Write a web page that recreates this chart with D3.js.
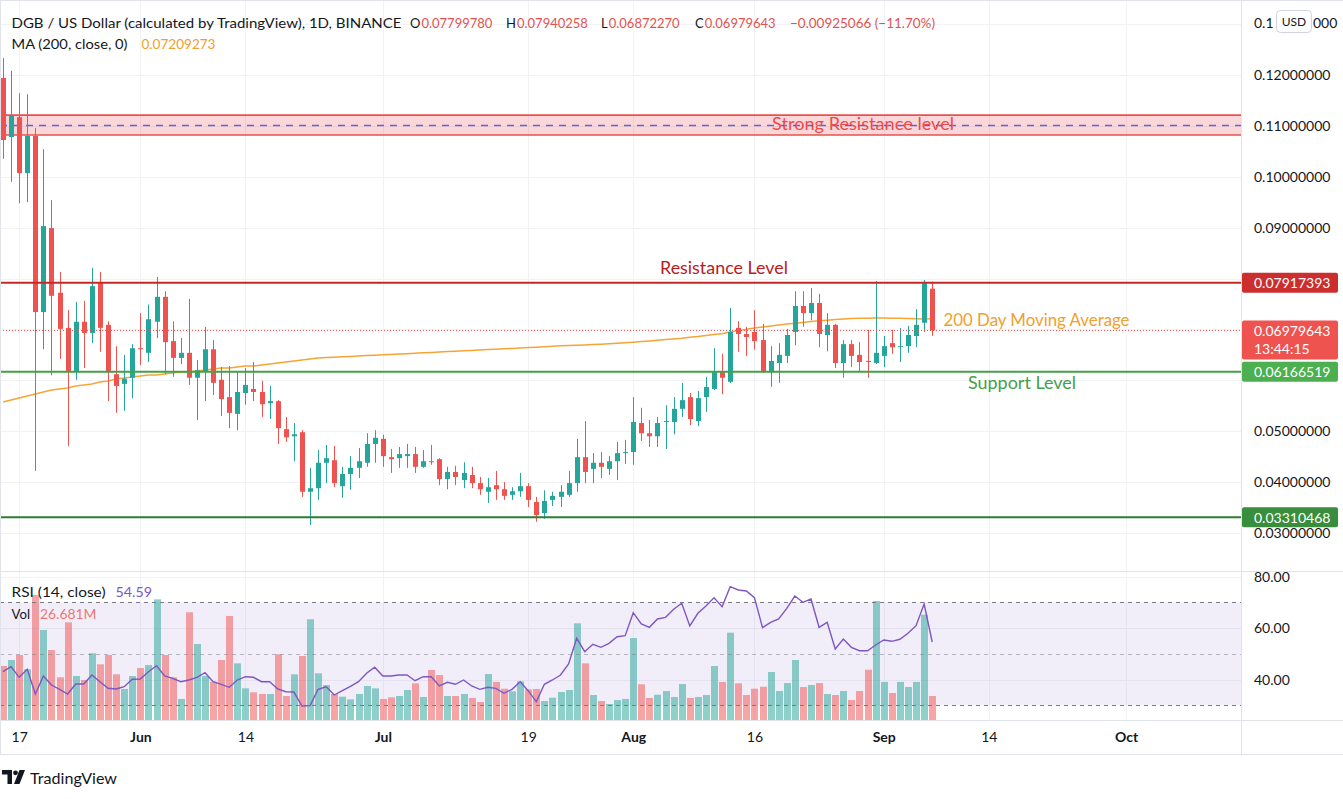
<!DOCTYPE html>
<html><head><meta charset="utf-8">
<script src="https://cdn.jsdelivr.net/npm/d3@7"></script>
<style>
html,body{margin:0;padding:0;background:#fff;overflow:hidden;}
svg{display:block;}
</style></head><body>
<svg id="chart" width="1343" height="799"></svg>
<script>
// ---------------- DATA ----------------
const firstDay = [2021, 4, 15]; // 15 May 2021, one candle per day
const open = [
0.1194,0.1078,0.1117,0.1007,0.1080,0.0734,0.0899,0.0772,0.0703,0.0616,
0.0715,0.0693,0.0793,0.0709,0.0612,0.0593,0.0605,0.0663,0.0654,0.0715,
0.0764,0.0677,0.0644,0.0654,0.0605,0.0618,0.0661,0.0601,0.0567,0.0534,
0.0575,0.0583,0.0577,0.0555,0.0559,0.0504,0.0490,0.0498,0.0381,0.0388,
0.0438,0.0443,0.0392,0.0416,0.0428,0.0438,0.0475,0.0485,0.0449,0.0447,
0.0451,0.0455,0.0430,0.0441,0.0445,0.0406,0.0420,0.0404,0.0414,0.0398,
0.0381,0.0394,0.0386,0.0375,0.0382,0.0392,0.0361,0.0339,0.0365,0.0371,
0.0375,0.0398,0.0449,0.0426,0.0438,0.0426,0.0441,0.0457,0.0459,0.0516,
0.0496,0.0490,0.0518,0.0518,0.0544,0.0567,0.0520,0.0567,0.0583,0.0616,
0.0597,0.0703,0.0691,0.0695,0.0679,0.0616,0.0634,0.0648,0.0695,0.0746,
0.0732,0.0752,0.0689,0.0709,0.0634,0.0671,0.0650,0.0638,0.0634,0.0648,
0.0673,0.0665,0.0667,0.0687,0.0713,0.07799780];
const high = [
0.1233,0.1208,0.1164,0.1162,0.1096,0.1054,0.0954,0.0813,0.0738,0.0754,
0.0756,0.0821,0.0813,0.0716,0.0667,0.0650,0.0671,0.0732,0.0749,0.0803,
0.0775,0.0716,0.0683,0.0760,0.0640,0.0705,0.0679,0.0626,0.0628,0.0616,
0.0624,0.0636,0.0599,0.0589,0.0561,0.0528,0.0516,0.0502,0.0428,0.0463,
0.0473,0.0471,0.0430,0.0451,0.0467,0.0496,0.0502,0.0493,0.0465,0.0469,
0.0475,0.0469,0.0463,0.0473,0.0447,0.0430,0.0432,0.0439,0.0430,0.0410,
0.0408,0.0422,0.0400,0.0390,0.0418,0.0398,0.0371,0.0384,0.0381,0.0394,
0.0422,0.0485,0.0520,0.0457,0.0459,0.0451,0.0479,0.0483,0.0567,0.0546,
0.0522,0.0528,0.0551,0.0567,0.0595,0.0575,0.0579,0.0607,0.0663,0.0652,
0.0742,0.0716,0.0705,0.0738,0.0711,0.0667,0.0673,0.0701,0.0775,0.0775,
0.0781,0.0770,0.0732,0.0711,0.0679,0.0679,0.0675,0.0699,0.0795,0.0687,
0.0699,0.0703,0.0707,0.0740,0.0797,0.07940258];
const low = [
0.1035,0.0990,0.0948,0.0950,0.0422,0.0661,0.0610,0.0642,0.0471,0.0601,
0.0624,0.0673,0.0656,0.0559,0.0536,0.0540,0.0565,0.0630,0.0636,0.0683,
0.0612,0.0607,0.0632,0.0591,0.0522,0.0559,0.0571,0.0530,0.0506,0.0502,
0.0552,0.0559,0.0528,0.0524,0.0475,0.0479,0.0441,0.0371,0.0316,0.0365,
0.0398,0.0390,0.0369,0.0385,0.0408,0.0430,0.0438,0.0430,0.0418,0.0428,
0.0428,0.0418,0.0428,0.0434,0.0394,0.0386,0.0394,0.0388,0.0388,0.0375,
0.0359,0.0365,0.0365,0.0365,0.0371,0.0351,0.0322,0.0328,0.0353,0.0351,
0.0371,0.0381,0.0398,0.0398,0.0408,0.0414,0.0404,0.0436,0.0434,0.0481,
0.0469,0.0469,0.0465,0.0494,0.0528,0.0512,0.0510,0.0538,0.0581,0.0573,
0.0595,0.0656,0.0648,0.0660,0.0614,0.0587,0.0595,0.0634,0.0669,0.0705,
0.0718,0.0665,0.0657,0.0624,0.0605,0.0626,0.0618,0.0605,0.0632,0.0626,
0.0652,0.0636,0.0654,0.0665,0.0695,0.06872270];
const close = [
0.1072,0.1121,0.1007,0.1080,0.0734,0.0903,0.0766,0.0701,0.0616,0.0715,
0.0693,0.0785,0.0703,0.0616,0.0589,0.0603,0.0663,0.0661,0.0720,0.0764,
0.0675,0.0644,0.0654,0.0605,0.0620,0.0661,0.0595,0.0563,0.0536,0.0577,
0.0591,0.0577,0.0553,0.0559,0.0506,0.0488,0.0494,0.0381,0.0388,0.0438,
0.0447,0.0398,0.0416,0.0428,0.0441,0.0475,0.0487,0.0451,0.0445,0.0455,
0.0455,0.0430,0.0441,0.0439,0.0406,0.0420,0.0410,0.0418,0.0398,0.0386,
0.0390,0.0386,0.0373,0.0382,0.0392,0.0365,0.0335,0.0363,0.0373,0.0381,
0.0398,0.0449,0.0420,0.0438,0.0430,0.0441,0.0457,0.0459,0.0518,0.0496,
0.0490,0.0516,0.0520,0.0544,0.0561,0.0524,0.0565,0.0587,0.0616,0.0605,
0.0695,0.0691,0.0685,0.0677,0.0616,0.0638,0.0650,0.0689,0.0746,0.0732,
0.0752,0.0691,0.0709,0.0634,0.0671,0.0648,0.0636,0.0636,0.0654,0.0667,
0.0665,0.0667,0.0689,0.0709,0.07905,0.06979643];
// volume in millions
const volume = [
60.0,66.7,72.3,56.4,139.0,100.1,77.8,47.5,108.6,48.9,
44.5,74.2,61.9,72.3,50.8,34.5,48.9,57.8,61.2,134.2,
72.3,47.5,23.4,119.8,84.5,48.9,42.6,66.7,115.7,63.0,
35.2,30.8,28.9,28.9,73.1,26.7,50.8,71.2,112.0,51.9,
38.9,28.9,25.9,23.0,28.9,37.8,35.2,23.4,25.2,26.7,
33.4,40.8,25.6,55.6,50.0,26.7,26.7,28.9,24.5,20.0,
51.2,42.3,34.8,31.9,43.0,34.1,34.5,21.1,24.8,31.1,
33.4,107.5,63.0,27.8,21.1,17.8,22.2,23.4,91.2,39.7,
24.5,28.1,32.2,25.6,40.0,24.5,25.6,27.8,60.0,42.3,
97.1,40.8,27.8,34.8,37.0,53.4,32.2,41.1,66.7,36.7,
38.9,41.1,28.9,27.8,32.2,22.2,32.2,55.9,132.3,42.3,
30.0,42.3,36.7,42.3,117.1,26.681];
const rsi = [
43.05,44.99,40.87,43.98,34.39,41.38,37.88,36.21,34.39,38.27,
38.27,41.77,39.17,36.60,36.33,37.22,40.10,40.23,43.05,45.38,
41.38,40.49,39.17,39.83,40.87,42.66,39.17,38.16,36.99,39.83,
41.11,40.87,39.17,39.17,36.33,35.28,35.15,29.73,29.86,36.21,
37.22,34.00,35.67,37.35,39.17,42.43,44.76,41.38,41.38,41.77,
41.77,39.55,41.11,41.11,37.50,38.93,38.16,39.83,37.50,36.21,
36.99,36.60,34.66,36.21,39.17,35.67,31.40,38.16,39.83,41.77,
46.04,56.02,50.82,53.69,52.52,54.08,56.64,57.03,65.96,61.57,
60.29,63.51,64.17,67.28,69.61,60.80,65.73,68.56,71.79,68.29,
76.06,74.78,74.39,71.79,60.14,62.23,63.51,67.67,72.45,70.00,
71.28,60.29,62.23,51.86,55.75,52.52,51.20,51.20,53.42,55.36,
54.85,55.63,57.96,60.91,69.34,54.59];
const ma200 = [
0.05573,0.05613,0.05652,0.05691,0.05731,0.05770,0.05809,0.05829,0.05848,0.05888,
0.05907,0.05927,0.05966,0.05986,0.06025,0.06045,0.06064,0.06084,0.06104,0.06104,
0.06123,0.06143,0.06163,0.06163,0.06182,0.06202,0.06222,0.06241,0.06241,0.06261,
0.06281,0.06281,0.06300,0.06320,0.06340,0.06359,0.06379,0.06398,0.06418,0.06438,
0.06446,0.06454,0.06462,0.06469,0.06477,0.06485,0.06493,0.06501,0.06509,0.06516,
0.06524,0.06532,0.06540,0.06548,0.06556,0.06564,0.06571,0.06579,0.06587,0.06595,
0.06603,0.06611,0.06619,0.06626,0.06634,0.06642,0.06650,0.06658,0.06668,0.06680,
0.06684,0.06689,0.06695,0.06701,0.06709,0.06719,0.06729,0.06739,0.06749,0.06761,
0.06772,0.06786,0.06800,0.06813,0.06827,0.06845,0.06862,0.06880,0.06898,0.06915,
0.06949,0.06976,0.07002,0.07027,0.07047,0.07067,0.07086,0.07106,0.07121,0.07137,
0.07153,0.07169,0.07182,0.07194,0.07204,0.07212,0.07218,0.07220,0.07222,0.07222,
0.07220,0.07218,0.07214,0.07210,0.07206,0.07209273];

const priceTicks = [0.03,0.04,0.05,0.06,0.07,0.08,0.09,0.10,0.11,0.12,0.13];
const rsiTicks = [40, 60, 80];
const timeTickDates = ["2021-05-17","2021-06-01","2021-06-14","2021-07-01","2021-07-19","2021-08-01","2021-08-16","2021-09-01","2021-09-14","2021-10-01"];
const timeTickLabels = ["17","Jun","14","Jul","19","Aug","16","Sep","14","Oct"];

const resistanceLevel = 0.07917393;
const supportLevel = 0.06166519;
const bottomSupport = 0.03310468;
const lastPrice = 0.06979643;
const strongZone = [0.1082, 0.1121];   // bottom, top of the shaded zone
const strongZoneMid = 0.1102;
const countdown = "13:44:15";
const headerOHLC = [["O","0.07799780"],["H","0.07940258"],["L","0.06872270"],["C","0.06979643"]];
const headerChange = "\u22120.00925066 (\u221211.70%)";
const maValue = "0.07209273";
const rsiValue = "54.59";
const volValue = "26.681M";

// ---------------- LAYOUT ----------------
const FONT = "Lato, 'Open Sans', 'DejaVu Sans', sans-serif";
const W = 1343, H = 799;
const PLOT_R = 1241;
const MAIN_B = 571, RSI_T = 572, RSI_B = 720, AX_B = 754;
const TEXT = "#131722";
const UP = "#26a69a", DOWN = "#ef5350";
const fmt8 = d3.format(".8f");

const svg = d3.select("#chart").attr("font-family", FONT);
svg.append("rect").attr("width", W).attr("height", H).attr("fill", "#fff");

const defs = svg.append("defs");
defs.append("clipPath").attr("id","mainClip").append("rect").attr("x",0).attr("y",0).attr("width",PLOT_R).attr("height",MAIN_B);
defs.append("clipPath").attr("id","rsiClip").append("rect").attr("x",0).attr("y",RSI_T).attr("width",PLOT_R).attr("height",RSI_B-RSI_T);
defs.append("clipPath").attr("id","pAxClip").append("rect").attr("x",PLOT_R).attr("y",0).attr("width",W-PLOT_R).attr("height",MAIN_B);
defs.append("clipPath").attr("id","rAxClip").append("rect").attr("x",PLOT_R).attr("y",RSI_T).attr("width",W-PLOT_R).attr("height",RSI_B-RSI_T);

const dates = open.map((_, i) => new Date(Date.UTC(firstDay[0], firstDay[1], firstDay[2] + i)));
const x = d3.scaleUtc()
  .domain([new Date(Date.UTC(2021,4,15)), new Date(Date.UTC(2021,9,15))])
  .range([3, 3 + 153 * 8.08]);
const yP = d3.scaleLinear().domain([0.03, 0.13]).range([533, 24]);
const yR = d3.scaleLinear().domain([30, 70]).range([705.3, 602.3]);
const yV = d3.scaleLinear().domain([0, 150]).range([RSI_B, 585.1]);
const tickDates = timeTickDates.map(s => new Date(s + "T00:00:00Z"));
const cx = i => Math.round(x(dates[i]));
const crisp = v => Math.round(v) + 0.5;

// ---------------- GRID ----------------
const grid = svg.append("g").attr("stroke", "#f0f2f6").attr("stroke-width", 1);
tickDates.forEach(d => {
  grid.append("line").attr("x1", crisp(x(d))).attr("x2", crisp(x(d))).attr("y1", 0).attr("y2", RSI_B);
});
priceTicks.forEach(p => {
  grid.append("line").attr("x1", 0).attr("x2", PLOT_R).attr("y1", crisp(yP(p))).attr("y2", crisp(yP(p)));
});
rsiTicks.forEach(r => {
  grid.append("line").attr("x1", 0).attr("x2", PLOT_R).attr("y1", crisp(yR(r))).attr("y2", crisp(yR(r)));
});

// ---------------- MAIN PANE ----------------
const main = svg.append("g").attr("clip-path", "url(#mainClip)");

// strong resistance zone
main.append("rect").attr("x", 0).attr("width", PLOT_R)
  .attr("y", yP(strongZone[1])).attr("height", yP(strongZone[0]) - yP(strongZone[1]))
  .attr("fill", "rgba(242,54,69,0.2)");
strongZone.forEach(v => main.append("line").attr("x1",0).attr("x2",PLOT_R)
  .attr("y1", yP(v)).attr("y2", yP(v)).attr("stroke", "#e8504f").attr("stroke-width", 1.6));
main.append("line").attr("x1",0).attr("x2",PLOT_R)
  .attr("y1", crisp(yP(strongZoneMid))).attr("y2", crisp(yP(strongZoneMid)))
  .attr("stroke", "#5867d6").attr("stroke-width", 1.3).attr("stroke-dasharray", "7,6");

// 200 MA
main.append("path").datum(ma200)
  .attr("d", d3.line().x((d, i) => x(dates[i])).y(d => yP(d)))
  .attr("fill", "none").attr("stroke", "#f5a536").attr("stroke-width", 1.5);

// candles
const candles = main.append("g");
dates.forEach((d, i) => {
  const up = close[i] >= open[i];
  const col = up ? UP : DOWN;
  const c = cx(i);
  candles.append("line").attr("x1", c + 0.5).attr("x2", c + 0.5)
    .attr("y1", yP(high[i])).attr("y2", yP(low[i])).attr("stroke", col).attr("stroke-width", 1);
  const top = yP(Math.max(open[i], close[i])), bot = yP(Math.min(open[i], close[i]));
  candles.append("rect").attr("x", c - 2).attr("width", 5)
    .attr("y", top).attr("height", Math.max(1, bot - top)).attr("fill", col);
});

// last price dotted line
main.append("line").attr("x1", 0).attr("x2", PLOT_R)
  .attr("y1", crisp(yP(lastPrice))).attr("y2", crisp(yP(lastPrice)))
  .attr("stroke", DOWN).attr("stroke-width", 1).attr("stroke-dasharray", "1,2");

// horizontal levels
[[resistanceLevel, "#c62828"], [supportLevel, "#43a047"], [bottomSupport, "#2e7d32"]].forEach(([v, c]) => {
  main.append("line").attr("x1", 0).attr("x2", PLOT_R).attr("y1", yP(v)).attr("y2", yP(v))
    .attr("stroke", c).attr("stroke-width", 2);
});

// annotations
const notes = [
  ["Strong Resistance level", 772, yP(strongZoneMid) - 1, 182, "#ee4a4a"],
  ["Resistance Level", 660, yP(resistanceLevel) - 15, 128, "#b71c1c"],
  ["200 Day Moving Average", 943.5, yP(ma200[ma200.length - 1]) + 0.5, 186, "#f0a02c"],
  ["Support Level", 968, yP(supportLevel) + 10.5, 108, "#43a047"]
];
notes.forEach(([t, tx, ty, tl, c]) => {
  main.append("text").attr("x", tx).attr("y", ty).attr("dominant-baseline", "central")
    .attr("font-size", 17).attr("fill", c).attr("textLength", tl).attr("lengthAdjust", "spacingAndGlyphs").text(t);
});

// header legend
const hdr = svg.append("g").attr("font-size", 13).attr("dominant-baseline", "central");
hdr.append("text").attr("x", 11.5).attr("y", 23).attr("fill", TEXT)
  .attr("textLength", 390).attr("lengthAdjust", "spacingAndGlyphs")
  .text("DGB / US Dollar (calculated by TradingView), 1D, BINANCE");
const ohlcX = [410, 506, 601, 695];
headerOHLC.forEach(([k, v], i) => {
  const t = hdr.append("text").attr("x", ohlcX[i]).attr("y", 23).attr("fill", TEXT);
  t.append("tspan").text(k);
  t.append("tspan").attr("fill", "#e3524f").attr("dx", 1).text(v);
});
hdr.append("text").attr("x", 790).attr("y", 23).attr("fill", "#e3524f")
  .attr("textLength", 145).attr("lengthAdjust", "spacingAndGlyphs").text(headerChange);
hdr.append("text").attr("x", 11.5).attr("y", 44).attr("fill", TEXT)
  .attr("textLength", 116).attr("lengthAdjust", "spacingAndGlyphs").text("MA (200, close, 0)");
hdr.append("text").attr("x", 141.5).attr("y", 44).attr("fill", "#f0a02c")
  .attr("textLength", 74).attr("lengthAdjust", "spacingAndGlyphs").text(maValue);

// ---------------- RSI / VOLUME PANE ----------------
const rp = svg.append("g").attr("clip-path", "url(#rsiClip)");
rp.append("rect").attr("x", 0).attr("width", PLOT_R)
  .attr("y", yR(70)).attr("height", yR(30) - yR(70)).attr("fill", "rgba(126,87,194,0.1)");
dates.forEach((d, i) => {
  const up = close[i] >= open[i];
  rp.append("rect").attr("x", cx(i) - 3).attr("width", 7)
    .attr("y", yV(volume[i])).attr("height", yV(0) - yV(volume[i]))
    .attr("fill", up ? "rgba(38,166,154,0.52)" : "rgba(239,83,80,0.52)");
});
[[70, 1], [50, 0.5], [30, 1]].forEach(([r, o]) => {
  rp.append("line").attr("x1", 0).attr("x2", PLOT_R).attr("y1", crisp(yR(r))).attr("y2", crisp(yR(r)))
    .attr("stroke", "#787b86").attr("stroke-opacity", o).attr("stroke-dasharray", "4,4");
});
rp.append("path").datum(rsi)
  .attr("d", d3.line().x((d, i) => x(dates[i])).y(d => yR(d)))
  .attr("fill", "none").attr("stroke", "#7e57c2").attr("stroke-width", 1.4);

const rl = svg.append("g").attr("font-size", 13).attr("dominant-baseline", "central");
rl.append("text").attr("x", 11.5).attr("y", 592).attr("fill", TEXT)
  .attr("textLength", 94).attr("lengthAdjust", "spacingAndGlyphs").text("RSI (14, close)");
rl.append("text").attr("x", 115.5).attr("y", 592).attr("fill", "#7e57c2")
  .attr("textLength", 36.5).attr("lengthAdjust", "spacingAndGlyphs").text(rsiValue);
rl.append("text").attr("x", 11.5).attr("y", 613.5).attr("fill", TEXT)
  .attr("textLength", 18.5).attr("lengthAdjust", "spacingAndGlyphs").text("Vol");
rl.append("text").attr("x", 40).attr("y", 613.5).attr("fill", "#ef7674")
  .attr("textLength", 56.5).attr("lengthAdjust", "spacingAndGlyphs").text(volValue);

// ---------------- AXES ----------------
const tagValues = [resistanceLevel, lastPrice, supportLevel, bottomSupport];
const USD_BOTTOM = 33;
// axis labels hidden behind the coloured price tags / USD button are not drawn
const visiblePriceTicks = priceTicks.filter(p =>
  yP(p) > USD_BOTTOM && !tagValues.some(v => Math.abs(yP(p) - yP(v)) < 14) &&
  !(Math.abs(yP(p) - yP(lastPrice) - 9) < 22));
const pAx = svg.append("g").attr("clip-path", "url(#pAxClip)").append("g")
  .attr("transform", `translate(${PLOT_R},0)`)
  .call(d3.axisRight(yP).tickValues(visiblePriceTicks).tickFormat(fmt8).tickSize(0).tickPadding(13));
pAx.select(".domain").remove();
pAx.attr("font-family", FONT).attr("font-size", 14);
pAx.selectAll("text").attr("fill", TEXT);

// top label partly covered by the USD button: draw the visible pieces either side of it
const topTick = priceTicks.filter(p => yP(p) <= USD_BOTTOM);
topTick.forEach(p => {
  const s = fmt8(p);
  svg.append("text").attr("x", 1254).attr("y", yP(p)).attr("dy", "0.32em")
    .attr("font-size", 14).attr("fill", TEXT).text(s.slice(0, 3));
  svg.append("text").attr("x", 1313).attr("y", yP(p)).attr("dy", "0.32em")
    .attr("font-size", 14).attr("fill", TEXT).text(s.slice(7));
});

const rAx = svg.append("g").attr("clip-path", "url(#rAxClip)").append("g")
  .attr("transform", `translate(${PLOT_R},0)`)
  .call(d3.axisRight(yR).tickValues(rsiTicks).tickFormat(d3.format(".2f")).tickSize(0).tickPadding(13));
rAx.select(".domain").remove();
rAx.attr("font-family", FONT).attr("font-size", 14);
rAx.selectAll("text").attr("fill", TEXT);

const tAx = svg.append("g").attr("transform", `translate(0,${RSI_B})`)
  .call(d3.axisBottom(x).tickValues(tickDates).tickFormat((d, i) => timeTickLabels[i]).tickSize(0).tickPadding(12));
tAx.select(".domain").remove();
tAx.attr("font-family", FONT).attr("font-size", 14);
tAx.selectAll("text").attr("fill", TEXT)
  .attr("font-weight", (d, i) => /^\d+$/.test(timeTickLabels[i]) ? 400 : 700);

// price labels on axis
function priceTag(v, fill, lines) {
  const g = svg.append("g");
  const y0 = yP(v);
  const h = lines.length === 1 ? 20 : 39;
  g.append("rect").attr("x", PLOT_R + 1).attr("y", y0 - 10).attr("width", 96).attr("height", h)
    .attr("rx", 2).attr("fill", fill);
  lines.forEach((t, k) => {
    g.append("text").attr("x", 1254).attr("y", y0 + k * 18).attr("dominant-baseline", "central")
      .attr("font-size", 14).attr("fill", "#fff").text(t);
  });
}
priceTag(resistanceLevel, "#cc2e2e", [fmt8(resistanceLevel)]);
priceTag(lastPrice, "#ef5350", [fmt8(lastPrice), countdown]);
priceTag(supportLevel, "#4caf50", [fmt8(supportLevel)]);
priceTag(bottomSupport, "#388e3c", [fmt8(bottomSupport)]);

// USD button
svg.append("rect").attr("x", 1276.5).attr("y", 10.5).attr("width", 35).attr("height", 22).attr("rx", 4)
  .attr("fill", "#fff").attr("stroke", "#d1d4dc");
svg.append("text").attr("x", 1294).attr("y", 21.5).attr("text-anchor", "middle").attr("dominant-baseline", "central")
  .attr("font-size", 12).attr("fill", TEXT).text("USD");

// ---------------- FRAME ----------------
const frame = svg.append("g").attr("stroke", "#e0e3eb").attr("stroke-width", 1);
frame.append("line").attr("x1", 0).attr("x2", W).attr("y1", 0.5).attr("y2", 0.5);
frame.append("line").attr("x1", 0.5).attr("x2", 0.5).attr("y1", 0).attr("y2", AX_B);
frame.append("line").attr("x1", 0).attr("x2", W).attr("y1", MAIN_B + 0.5).attr("y2", MAIN_B + 0.5);
frame.append("line").attr("x1", 0).attr("x2", W).attr("y1", RSI_B + 0.5).attr("y2", RSI_B + 0.5);
frame.append("line").attr("x1", 0).attr("x2", W).attr("y1", AX_B + 0.5).attr("y2", AX_B + 0.5);
frame.append("line").attr("x1", PLOT_R + 0.5).attr("x2", PLOT_R + 0.5).attr("y1", 0).attr("y2", AX_B);

// TradingView logo
const logo = svg.append("g").attr("fill", "#131722");
logo.append("path").attr("d", "M2 770 h10 v14 h-4.5 v-9.5 h-5.5 z");
logo.append("circle").attr("cx", 15.5).attr("cy", 772.8).attr("r", 2.4);
logo.append("path").attr("d", "M19.5 770 h5.5 l-5.5 14 h-5.5 z");
svg.append("text").attr("x", 30).attr("y", 777.5).attr("dominant-baseline", "central")
  .attr("font-size", 16).attr("fill", TEXT).attr("textLength", 87).attr("lengthAdjust", "spacingAndGlyphs")
  .text("TradingView");
</script>
</body></html>
